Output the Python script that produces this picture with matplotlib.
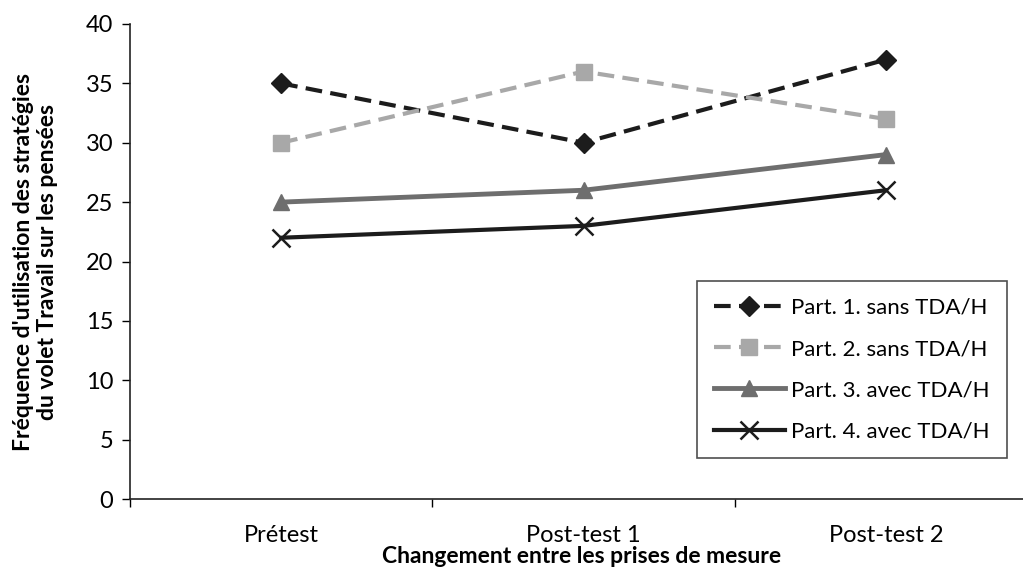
import matplotlib
matplotlib.use("Agg")
import matplotlib.pyplot as plt

categories = ["Prétest", "Post-test 1", "Post-test 2"]
part1 = [35, 30, 37]
part2 = [30, 36, 32]
part3 = [25, 26, 29]
part4 = [22, 23, 26]
labels = ["Part. 1. sans TDA/H", "Part. 2. sans TDA/H",
          "Part. 3. avec TDA/H", "Part. 4. avec TDA/H"]
yticks = [0, 5, 10, 15, 20, 25, 30, 35, 40]

plt.rcParams['font.family'] = ['Lato', 'DejaVu Sans']

fig = plt.figure(figsize=(10.23, 5.7), dpi=100)
# axes spans 130px..1037px horizontally, 24px..499px vertically
ax = fig.add_axes([130 / 1023, 1 - 499 / 570, 907 / 1023, 475 / 570])

x = range(len(categories))
ax.plot(x, part1, color="#1c1c1c", lw=3, ls=(0, (4, 2)), marker="D", ms=10,
        label=labels[0])
ax.plot(x, part2, color="#a8a8a8", lw=3, ls=(0, (4, 2)), marker="s", ms=12,
        label=labels[1])
ax.plot(x, part3, color="#6e6e6e", lw=3.5, marker="^", ms=12, label=labels[2])
ax.plot(x, part4, color="#1c1c1c", lw=3, marker="x", ms=13, mew=1.8,
        label=labels[3])

ax.set_xlim(-0.5, 2.5)
ax.set_ylim(0, 40)
ax.set_yticks(yticks)
ax.set_xticks([-0.5, 0.5, 1.5, 2.5])
ax.set_xticklabels([])
ax.set_xticks(list(x), minor=True)
ax.set_xticklabels(categories, minor=True)
ax.tick_params(axis="x", which="minor", length=0, pad=19, labelsize=17)
ax.tick_params(axis="x", which="major", length=6, width=1, direction="out")
ax.tick_params(axis="y", length=6, width=1, labelsize=17, pad=6)

for s in ["top", "right"]:
    ax.spines[s].set_visible(False)
for s in ["left", "bottom"]:
    ax.spines[s].set_linewidth(1.2)
    ax.spines[s].set_color("#222222")

# label positions in axes fractions, from the reference pixels
ax.set_xlabel("Changement entre les prises de mesure", fontsize=16.5,
              fontweight="bold")
ax.xaxis.set_label_coords((582 - 130) / 907, -47 / 475)
ax.set_ylabel("Fréquence d'utilisation des stratégies\ndu volet Travail sur les pensées",
              fontsize=16.5, fontweight="bold", linespacing=1.2)
ax.yaxis.set_label_coords((58 - 130) / 907, (499 - 262) / 475)

leg = ax.legend(loc="lower left", bbox_to_anchor=(697 / 1023, 1 - 458 / 570,
                                                   310 / 1023, 175 / 570),
                bbox_transform=fig.transFigure, mode="expand", borderaxespad=0,
                fontsize=16, frameon=True, fancybox=False, edgecolor="#222222",
                handlelength=3.2, labelspacing=0.95, borderpad=0.75,
                handletextpad=0.3)
leg.get_frame().set_linewidth(1.2)

fig.savefig("out.png", dpi=100)
